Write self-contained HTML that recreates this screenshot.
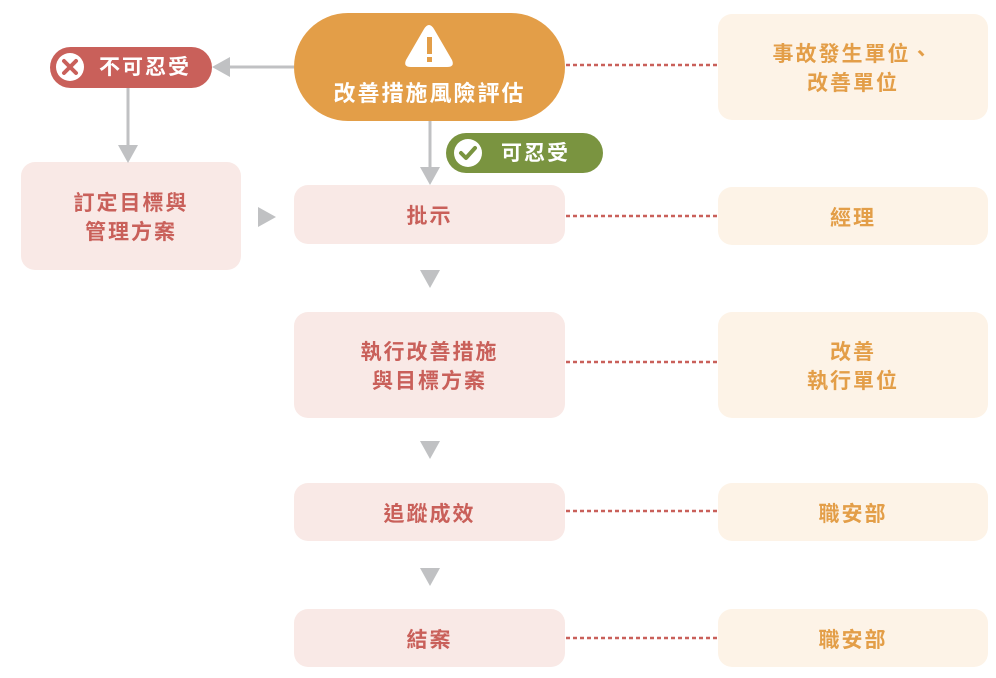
<!DOCTYPE html>
<html><head><meta charset="utf-8"><style>
*{margin:0;padding:0;box-sizing:border-box}
body{width:996px;height:678px;background:#fff;position:relative;overflow:hidden;font-family:"Liberation Sans","Noto Sans CJK TC",sans-serif;font-weight:bold}
.b{position:absolute;display:flex;align-items:center;justify-content:center;text-align:center;font-size:21px;line-height:29px;letter-spacing:2px;padding-top:4px}
.p{background:#f9e9e6;color:#c9605a;border-radius:14px}
.r{background:#fdf3e7;color:#e39e48;border-radius:14px}
svg{position:absolute;left:0;top:0}
</style></head><body>
<div class="b" style="left:294px;top:13px;width:271px;height:108px;background:#e39e48;border-radius:54px;color:#fff;padding-top:52px;font-size:22px">改善措施風險評估</div>
<div class="b" style="left:50px;top:47px;width:162px;height:41px;background:#c9605a;border-radius:21px;color:#fff;padding-left:28px;padding-top:0;letter-spacing:2px">不可忍受</div>
<div class="b" style="left:446px;top:133px;width:157px;height:40px;background:#7a9440;border-radius:20px;color:#fff;padding-left:22px;padding-top:0">可忍受</div>
<div class="b p" style="left:21px;top:162px;width:220px;height:108px">訂定目標與<br>管理方案</div>
<div class="b p" style="left:294px;top:185px;width:271px;height:59px">批示</div>
<div class="b p" style="left:294px;top:312px;width:271px;height:106px">執行改善措施<br>與目標方案</div>
<div class="b p" style="left:294px;top:483px;width:271px;height:58px">追蹤成效</div>
<div class="b p" style="left:294px;top:609px;width:271px;height:58px">結案</div>
<div class="b r" style="left:718px;top:14px;width:270px;height:106px">事故發生單位、<br>改善單位</div>
<div class="b r" style="left:718px;top:187px;width:270px;height:58px">經理</div>
<div class="b r" style="left:718px;top:312px;width:270px;height:106px">改善<br>執行單位</div>
<div class="b r" style="left:718px;top:483px;width:270px;height:58px">職安部</div>
<div class="b r" style="left:718px;top:609px;width:270px;height:58px">職安部</div>
<svg width="996" height="678">
<g stroke="#c0c1c3" stroke-width="3" fill="none">
<line x1="294" y1="67" x2="228" y2="67"/>
<line x1="128" y1="88" x2="128" y2="148"/>
<line x1="430" y1="121" x2="430" y2="170"/>
</g>
<g fill="#c0c1c3">
<polygon points="212,67 230,57 230,77"/>
<polygon points="118,145 138,145 128,163"/>
<polygon points="420,167 440,167 430,185"/>
<polygon points="258,207 276,217 258,227"/>
<polygon points="420,270 440,270 430,288"/>
<polygon points="420,441 440,441 430,459"/>
<polygon points="420,568 440,568 430,586"/>
</g>
<g stroke="#c9605a" stroke-width="2.5" stroke-dasharray="4 3">
<line x1="566" y1="65" x2="718" y2="65"/>
<line x1="566" y1="216" x2="718" y2="216"/>
<line x1="566" y1="362" x2="718" y2="362"/>
<line x1="566" y1="511" x2="718" y2="511"/>
<line x1="566" y1="638" x2="718" y2="638"/>
</g>
<path d="M424,29 Q429,21 434,29 L452,60 Q455,67 447,67 L411,67 Q403,67 406,60 Z" fill="#fff"/>
<rect x="427" y="37" width="5" height="17" fill="#e39e48"/>
<rect x="427" y="57" width="5" height="5" fill="#e39e48"/>
<circle cx="70" cy="67" r="14" fill="#fff"/>
<g stroke="#c9605a" stroke-width="4" stroke-linecap="round"><line x1="64" y1="61" x2="76" y2="73"/><line x1="76" y1="61" x2="64" y2="73"/></g>
<circle cx="468" cy="153" r="14" fill="#fff"/>
<polyline points="461,153 466,158 475,148" stroke="#7a9440" stroke-width="4" fill="none" stroke-linecap="round" stroke-linejoin="round"/>
</svg>
</body></html>
